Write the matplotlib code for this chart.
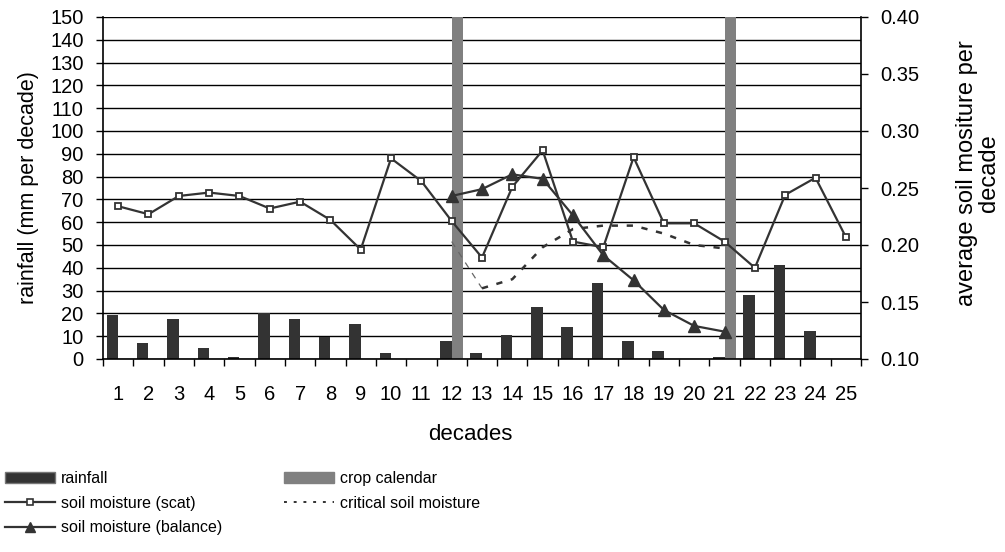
import matplotlib.pyplot as plt
from matplotlib.patches import Patch
from matplotlib.lines import Line2D
from matplotlib.ticker import MultipleLocator, FixedLocator

# rainfall per decade (mm) and the two soil moisture estimates
decades = list(range(1, 26))
rainfall = [19.5, 7, 17.5, 5, 0.8, 20, 17.5, 9.5, 15.5, 2.5, 0, 8, 2.5,
            10.5, 22.7, 14, 33.2, 7.8, 3.4, 0, 0.7, 28, 41.1, 12.2, 0]
crop_decades = [12, 21]
crop_height = [150, 150]

scat = [0.234, 0.227, 0.243, 0.246, 0.243, 0.232, 0.238, 0.222, 0.196,
        0.276, 0.256, 0.221, 0.189, 0.251, 0.283, 0.203, 0.198, 0.277,
        0.219, 0.219, 0.203, 0.180, 0.244, 0.259, 0.207]

season = list(range(12, 22))
balance = [0.243, 0.249, 0.262, 0.258, 0.226, 0.191, 0.169, 0.143, 0.129, 0.124]
critical = [0.203, 0.162, 0.170, 0.198, 0.214, 0.217, 0.217, 0.210, 0.200, 0.197]

DARK = "#333333"
GREY = "#808080"
plt.rcParams["font.family"] = ["Liberation Sans", "DejaVu Sans"]

W, H = 1005, 552
fig = plt.figure(figsize=(W / 100, H / 100), dpi=100)
ax = fig.add_axes([103 / W, 1 - 359 / H, (861 - 103) / W, (359 - 17) / H])
ax2 = ax.twinx()

# --- bars (left axis) ---
bw = 0.38
ax.bar([d - bw / 2 for d in decades], rainfall, width=bw, color=DARK, zorder=2)
ax.bar([d + bw / 2 for d in crop_decades], crop_height, width=bw, color=GREY, zorder=2)

ax.set_xlim(0.5, 25.5)
ax.set_ylim(0, 150)
ax.yaxis.set_major_locator(MultipleLocator(10))
ax.grid(axis="y", color="black", linewidth=1)
ax.set_axisbelow(True)

ax.xaxis.set_major_locator(FixedLocator([d + 0.5 for d in range(0, 26)]))
ax.xaxis.set_major_formatter(plt.NullFormatter())
ax.set_xticks(decades, [str(d) for d in decades], minor=True)
ax.tick_params(axis="x", which="major", direction="out", length=5, width=1)
ax.tick_params(axis="x", which="minor", length=0, labelsize=14.5, pad=19)
ax.tick_params(axis="y", direction="out", length=5, width=1, labelsize=14.5, pad=9)

for s in ["top", "right"]:
    ax.spines[s].set_visible(False)
for s in ["left", "bottom"]:
    ax.spines[s].set_linewidth(1.2)

# --- soil moisture lines (right axis) ---
ax2.plot(decades, scat, color=DARK, linewidth=1.6, marker="s", markersize=5,
         markerfacecolor="white", markeredgecolor=DARK, markeredgewidth=1.3, zorder=4)
ax2.plot(season, balance, color=DARK, linewidth=1.6, marker="^", markersize=9,
         markerfacecolor=DARK, markeredgecolor=DARK, zorder=4)
# first step of the critical curve is drawn fainter
ax2.plot(season[:2], critical[:2], color="#666666", linewidth=0.9,
         linestyle=(0, (5, 5)), zorder=3)
ax2.plot(season[1:], critical[1:], color=DARK, linewidth=1.8,
         linestyle=(0, (2.5, 3.5)), zorder=3)

ax2.set_ylim(0.10, 0.40)
ax2.yaxis.set_major_locator(MultipleLocator(0.05))
ax2.yaxis.set_major_formatter(plt.FormatStrFormatter("%.2f"))
ax2.tick_params(axis="y", direction="out", length=5, width=1, labelsize=14.5, pad=9)
for s in ["top", "left", "bottom"]:
    ax2.spines[s].set_visible(False)
ax2.spines["right"].set_linewidth(1.2)

# --- axis titles ---
fig.text(29 / W, 1 - 188 / H, "rainfall (mm per decade)", rotation=90,
         ha="center", va="center", fontsize=15.5)
fig.text(978 / W, 1 - 173 / H, "average soil mositure per\ndecade", rotation=90,
         ha="center", va="center", fontsize=17, multialignment="center",
         linespacing=1.0)
fig.text(470 / W, 1 - 435 / H, "decades", ha="center", va="center", fontsize=16)

# --- legend ---
handles = [
    Patch(facecolor=DARK, edgecolor="#777777", linewidth=1),
    Line2D([], [], color=DARK, linewidth=1.6, marker="s", markersize=4.5,
           markerfacecolor="white", markeredgecolor=DARK, markeredgewidth=1.2),
    Line2D([], [], color=DARK, linewidth=1.6, marker="^", markersize=7,
           markerfacecolor=DARK, markeredgecolor=DARK),
    Patch(facecolor=GREY, edgecolor=GREY),
    Line2D([], [], color=DARK, linewidth=1.4, linestyle=(0, (1.5, 3.5))),
]
labels = ["rainfall", "soil moisture (scat)", "soil moisture (balance)",
          "crop calendar", "critical soil moisture"]
fig.legend(handles, labels, ncol=2, loc="upper left",
           bbox_to_anchor=(5 / W, 1 - 471 / H), frameon=False,
           prop={"size": 11.5},
           handlelength=3.1, handletextpad=0.4, columnspacing=3.9,
           labelspacing=0.6, borderpad=0, borderaxespad=0)

fig.savefig("out.png", dpi=100)
